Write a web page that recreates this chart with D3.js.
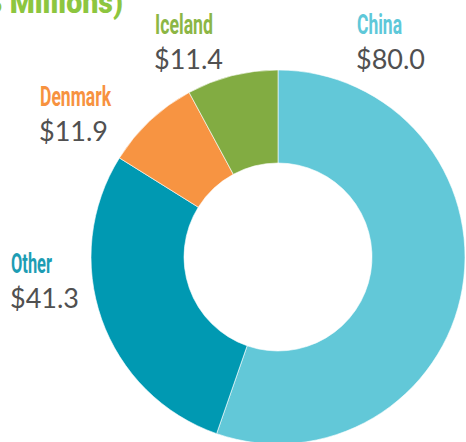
<!DOCTYPE html>
<html>
<head>
<meta charset="utf-8">
<script src="https://cdn.jsdelivr.net/npm/d3@7"></script>
<style>
  body { margin: 0; background: #fff; }
  svg { display: block; }
</style>
</head>
<body>
<svg id="vis" width="466" height="442"></svg>
<script>
const svg = d3.select("#vis");

// values, $ millions
const countries = ["China", "Other", "Denmark", "Iceland"];
const amounts = [80.0, 41.3, 11.9, 11.4];
const sliceColors = ["#62c8d8", "#0099b2", "#f79442", "#82ac42"];
const labelColors = ["#5ec8d9", "#1d9db4", "#f7923f", "#8cb645"];
const TITLE = "($ Millions)";

const cx = 278, cy = 257;
const OUTER = 187, INNER = 94;

// label anchor spots (left edge, name baseline)
const labelPos = {
  China:   { x: 357, y: 34, w: 45 },
  Iceland: { x: 155, y: 34, w: 58 },
  Denmark: { x: 40,  y: 106, w: 71 },
  Other:   { x: 11,  y: 273, w: 41 }
};

function main() {
  drawTitle();
  drawDonut();
  drawLabels();
}

function drawTitle() {
  // title sits mostly above the frame, only its lower half shows
  svg.append("text")
    .attr("x", -24)
    .attr("y", 13)
    .attr("fill", "#8dc63f")
    .attr("textLength", 147)
    .attr("lengthAdjust", "spacingAndGlyphs")
    .style("font-family", "Roboto")
    .style("font-weight", 900)
    .style("font-size", "31px")
    .text(TITLE);
}

function drawDonut() {
  const data = countries.map((c, i) => ({ name: c, value: amounts[i], color: sliceColors[i] }));
  const pie = d3.pie().value(d => d.value).sort(null);
  const arc = d3.arc().innerRadius(INNER).outerRadius(OUTER);

  svg.append("g")
    .attr("transform", `translate(${cx},${cy})`)
    .selectAll("path")
    .data(pie(data))
    .join("path")
    .attr("d", arc)
    .attr("fill", d => d.data.color)
    .attr("stroke", "#fff")
    .attr("stroke-width", 0.6);
}

function drawLabels() {
  const g = svg.append("g");
  countries.forEach((c, i) => {
    const p = labelPos[c];
    g.append("text")
      .attr("x", p.x)
      .attr("y", p.y)
      .attr("fill", labelColors[i])
      .attr("textLength", p.w)
      .attr("lengthAdjust", "spacingAndGlyphs")
      .style("font-family", "Roboto")
      .style("font-weight", 700)
      .style("font-size", "27px")
      .text(c);
    g.append("text")
      .attr("x", p.x - 1)
      .attr("y", p.y + 35)
      .attr("fill", "#505050")
      .style("font-family", "Lato")
      .style("font-weight", 400)
      .style("font-size", "27px")
      .text("$" + d3.format(".1f")(amounts[i]));
  });
}

main();
</script>
</body>
</html>
